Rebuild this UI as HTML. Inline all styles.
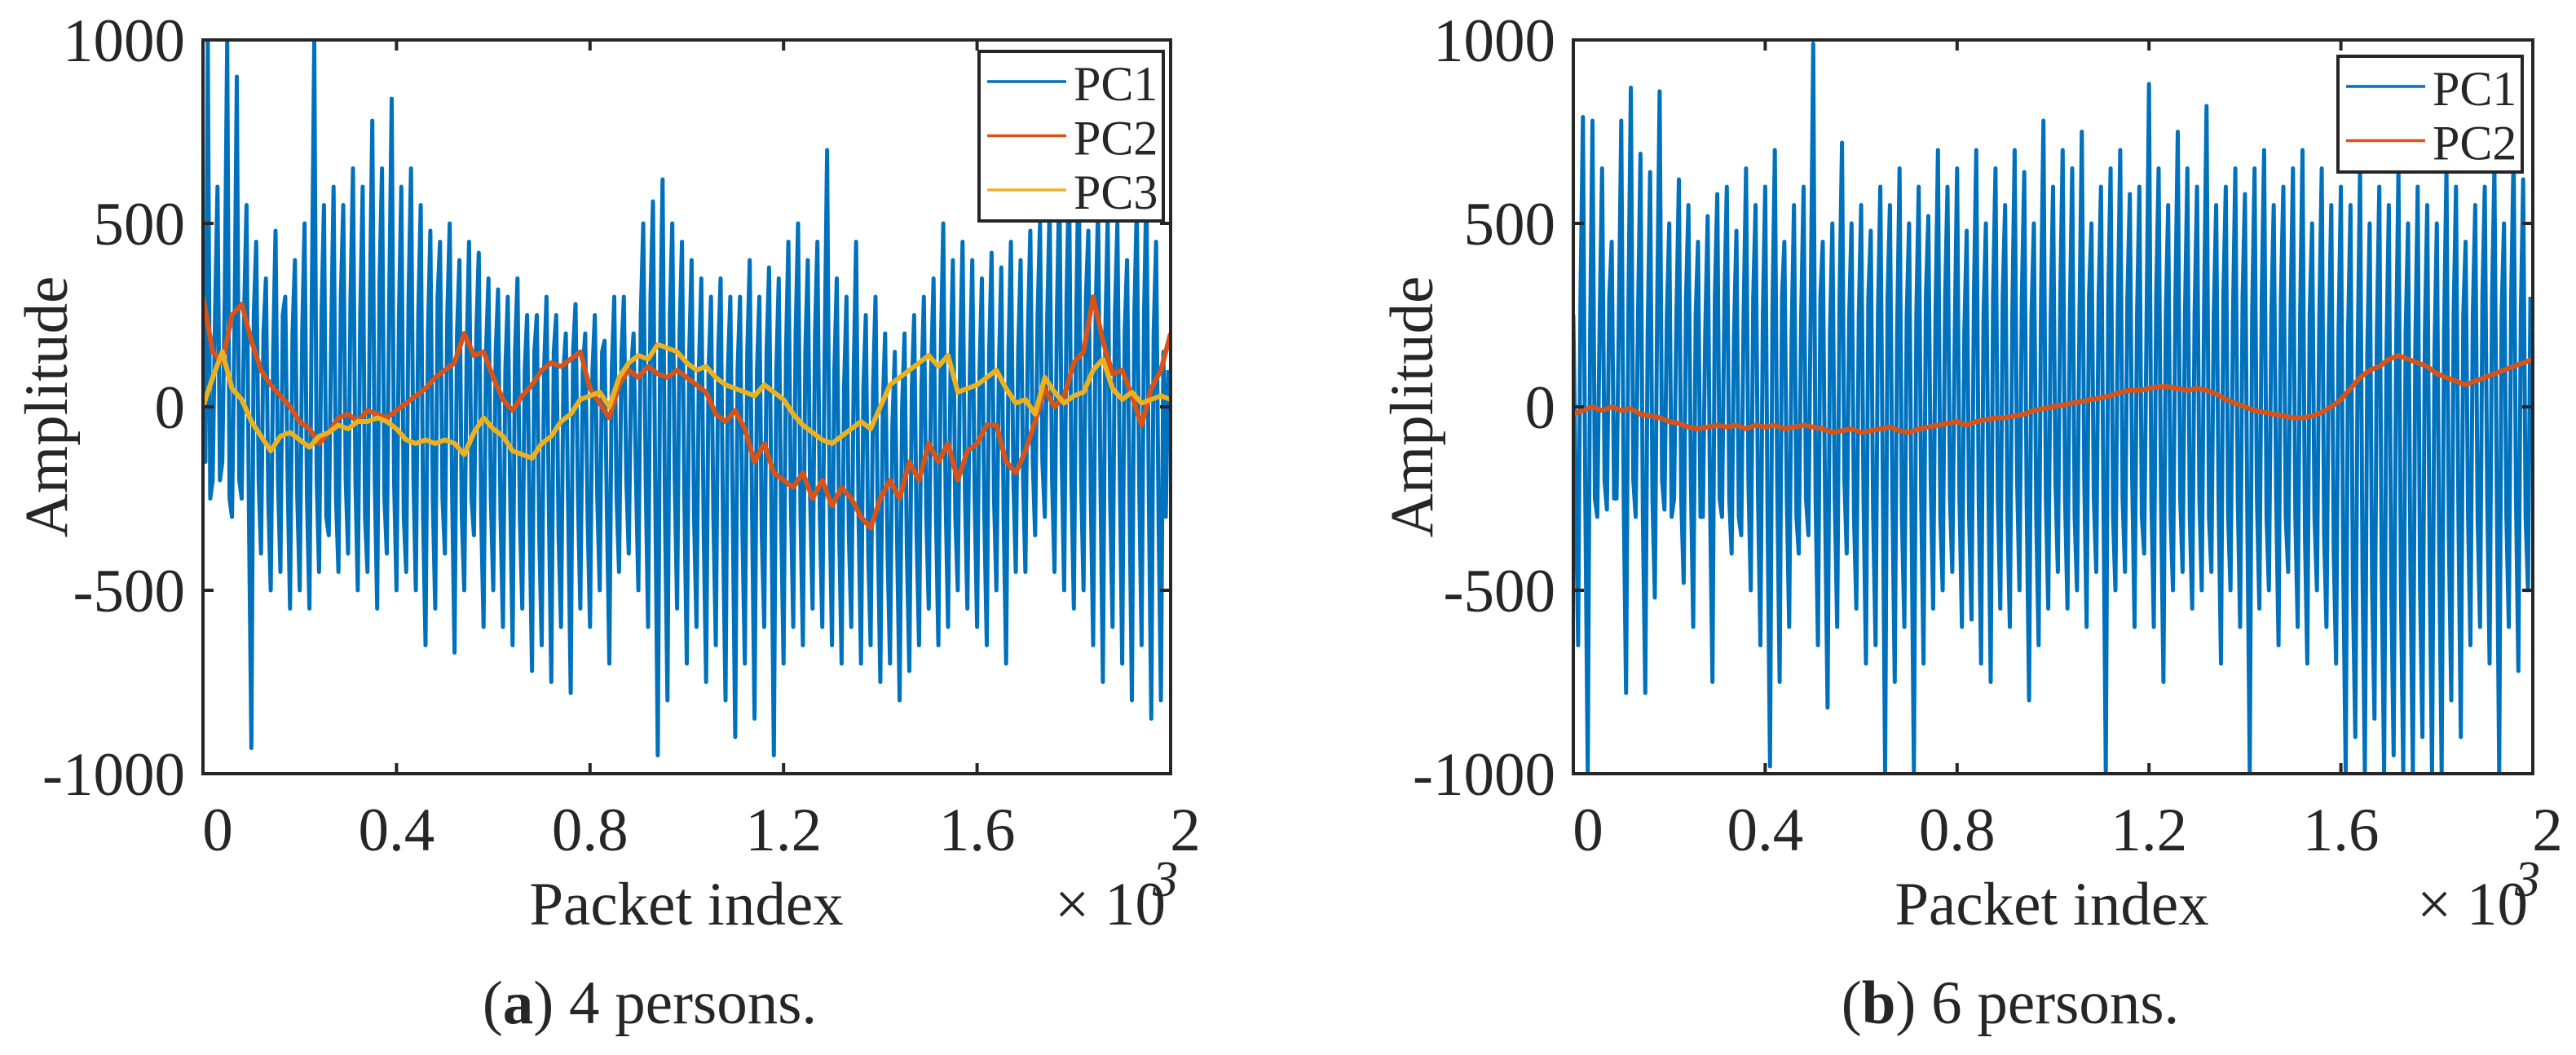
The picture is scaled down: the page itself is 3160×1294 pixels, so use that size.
<!DOCTYPE html>
<html><head><meta charset="utf-8">
<style>
html,body{margin:0;padding:0;background:#fff;}
svg{display:block;}
</style></head>
<body>
<svg id="fig" width="3160" height="1294" viewBox="0 0 3160 1294" xmlns="http://www.w3.org/2000/svg" font-family="'Liberation Serif', 'Times New Roman', serif">
<defs>
<clipPath id="clipA"><rect x="249" y="49" width="1187" height="900"/></clipPath>
<clipPath id="clipB"><rect x="1930" y="49" width="1177" height="900"/></clipPath>
</defs>
</svg>
<script>
const xTicks=[0,400,800,1200,1600,2000];
const xTickLabels=["0","0.4","0.8","1.2","1.6","2"];
const yTicks=[1000,500,0,-500,-1000];
const yTickLabels=["1000","500","0","-500","-1000"];
const pc1Step=5, pcSmoothStep=20;
const aPC1=[300,-150,1000,-250,-200,250,600,-200,-150,300,1000,-250,-300,200,900,-200,-250,250,550,-300,
-930,250,450,-200,-400,200,350,-250,-500,150,480,-200,-450,250,300,-200,-550,200,400,-250,
-500,200,500,-250,-550,300,1000,-200,-450,250,550,-300,-350,200,600,-250,-450,300,550,-200,
-400,300,650,-200,-500,250,600,-300,-450,300,780,-200,-550,350,650,-250,-400,300,840,-200,
-500,250,600,-300,-450,300,650,-200,-500,250,550,-300,-650,200,480,-250,-550,300,450,-250,
-400,250,500,-250,-670,200,400,-300,-500,150,450,-250,-350,200,420,-300,-600,150,350,-250,
-500,150,320,-300,-600,100,300,-250,-650,150,350,-300,-550,100,250,-300,-720,150,250,-350,
-650,100,300,-300,-750,150,250,-350,-600,100,200,-300,-780,150,280,-250,-550,100,200,-300,
-600,100,250,-250,-500,150,180,-300,-700,100,300,-250,-450,150,300,-200,-400,100,200,-200,
-500,250,500,-200,-600,300,560,-250,-950,200,620,-300,-800,250,500,-200,-550,200,450,-250,
-700,150,400,-300,-600,100,350,-350,-750,100,300,-300,-650,150,350,-350,-800,100,300,-300,
-900,100,300,-350,-700,150,400,-300,-850,100,300,-350,-600,150,380,-300,-950,100,350,-300,
-700,150,450,-250,-600,200,500,-300,-650,150,400,-250,-550,200,450,-300,-600,150,700,-250,
-650,100,350,-350,-700,50,300,-350,-600,100,450,-300,-700,50,250,-400,-650,50,300,-350,
-750,0,200,-400,-700,-50,150,-400,-800,0,200,-400,-720,50,250,-350,-650,50,300,-300,
-550,100,350,-300,-650,150,500,-250,-600,100,400,-300,-500,150,450,-250,-550,100,400,-250,
-600,100,350,-300,-650,150,420,-250,-500,100,380,-300,-700,150,450,-200,-450,150,400,-200,
-450,200,480,-150,-350,250,500,-150,-300,250,550,-200,-450,250,620,-150,-500,300,650,-200,
-550,250,700,-200,-500,300,480,-250,-650,250,550,-200,-750,200,520,-250,-600,250,500,-200,
-700,200,400,-250,-800,250,550,-200,-650,250,600,-250,-850,200,450,-300,-800,150,-300,100];
const aPC2=[300,150,120,250,280,180,100,60,30,0,
-40,-60,-100,-70,-30,-20,-40,-10,-20,-30,
-10,10,30,50,80,100,120,200,140,150,
80,20,-10,30,60,100,120,110,130,150,
50,10,-30,60,100,80,110,90,80,100,
80,60,40,-20,-40,-10,-60,-150,-100,-180,
-200,-220,-180,-250,-200,-270,-220,-250,-300,-330,
-250,-200,-250,-150,-200,-100,-150,-100,-200,-120,
-100,-50,-50,-150,-180,-120,-40,50,0,30,
120,150,300,180,90,100,30,-50,50,100,200];
const aPC3=[0,80,150,50,20,-40,-80,-120,-80,-70,
-90,-110,-80,-70,-50,-60,-40,-40,-30,-40,
-60,-90,-100,-90,-100,-90,-100,-130,-70,-30,
-60,-80,-120,-130,-140,-100,-80,-40,-20,20,
30,40,0,80,120,140,130,170,160,150,
120,100,110,80,60,50,40,30,60,40,
20,-20,-50,-70,-90,-100,-80,-60,-40,-60,
0,60,80,100,120,140,110,140,40,50,
60,80,100,50,10,20,-20,80,40,10,
30,40,100,130,50,20,40,10,20,30,20];
const bPC1=[250,-200,-650,300,790,-250,-1000,200,780,-250,-300,250,650,-200,-280,300,450,-250,-250,250,
780,-250,-780,300,870,-200,-300,250,690,-300,-780,200,640,-250,-520,300,860,-200,-280,250,
500,-300,-250,250,620,-250,-480,300,550,-200,-600,250,450,-300,-300,200,520,-250,-750,300,
580,-250,-300,300,600,-250,-400,200,480,-300,-350,250,650,-200,-500,300,550,-250,-650,250,
600,-300,-980,250,700,-200,-750,300,450,-250,-600,200,550,-300,-400,250,600,-250,-350,300,
990,-250,-650,300,450,-300,-820,200,500,-250,-600,300,720,-200,-400,250,500,-300,-550,250,
550,-250,-700,300,480,-300,-650,250,600,-200,-1000,300,550,-250,-750,200,650,-300,-600,250,
500,-300,-1000,250,600,-250,-700,300,520,-200,-550,250,700,-300,-500,300,600,-250,-450,200,
650,-250,-600,200,480,-300,-580,300,700,-250,-700,250,500,-200,-750,300,650,-250,-550,300,
550,-300,-600,250,700,-200,-500,300,640,-250,-800,250,500,-300,-650,300,780,-250,-550,250,
600,-200,-450,300,700,-250,-550,250,650,-300,-500,250,750,-200,-600,300,500,-250,-450,300,
600,-250,-1000,300,650,-300,-500,250,700,-250,-450,300,580,-200,-600,250,600,-300,-400,250,
880,-250,-600,300,650,-250,-750,250,550,-300,-500,300,750,-250,-450,250,650,-300,-550,250,
600,-250,-500,300,820,-300,-450,250,550,-250,-700,300,600,-300,-500,250,650,-250,-600,300,
580,-300,-1000,250,650,-250,-550,300,700,-300,-500,250,550,-250,-650,300,600,-300,-450,250,
650,-300,-600,250,700,-350,-700,250,500,-300,-500,250,650,-350,-600,200,550,-400,-700,200,
600,-450,-1000,200,550,-500,-900,150,650,-450,-1000,150,500,-500,-850,200,600,-450,-1000,150,
550,-500,-950,150,650,-500,-1000,200,500,-450,-1000,150,600,-500,-900,200,550,-450,-1000,150,
500,-400,-1000,200,650,-350,-800,250,600,-300,-900,250,450,-300,-650,250,550,-300,-600,300,
600,-250,-700,300,650,-250,-1000,250,500,-300,-600,300,700,-250,-720,250,620,-300,-500,300];
const bPC2=[-20,-10,0,-10,0,-10,-5,-20,-25,-30,
-40,-45,-55,-60,-55,-50,-55,-50,-60,-50,
-55,-50,-60,-55,-50,-55,-60,-70,-65,-60,
-70,-65,-60,-55,-65,-70,-60,-55,-50,-45,
-40,-50,-40,-35,-30,-30,-25,-20,-10,-5,
0,5,10,15,20,25,30,40,45,45,
50,55,55,50,45,50,45,35,20,10,
0,-10,-15,-20,-25,-30,-30,-25,-15,0,
20,50,80,100,110,130,140,130,120,110,
90,80,70,60,70,80,90,100,110,120,130];
const legendA=["PC1","PC2","PC3"];
const legendB=["PC1","PC2"];
const COLORS={PC1:"#0072BD",PC2:"#D95319",PC3:"#EDB120"};

const NS="http://www.w3.org/2000/svg";
const svg=document.getElementById('fig');
const FONT="'Liberation Serif', 'Times New Roman', serif";
function mk(tag,attrs,parent){const e=document.createElementNS(NS,tag);for(const k in attrs)e.setAttribute(k,attrs[k]);if(tag==='text'){e.setAttribute('font-family',FONT);e.setAttribute('fill','#262626');}(parent||svg).appendChild(e);return e;}

function panel(cfg){
  const L=cfg.left,R=cfg.right,T=49,B=949;
  const xs=v=>L+(v-0)/2000*(R-L);
  const ys=v=>T+(1000-v)/2000*(B-T);
  const g=mk('g',{});
  
  
  const pg=mk('g',{'clip-path':'url(#'+cfg.clip+')'},g);
  
  
  cfg.series.forEach(s=>{
    const pts=s.data.map((v,i)=>xs(i*s.step).toFixed(1)+','+ys(v).toFixed(1)).join(' ');
    const pl=mk('polyline',{points:pts,fill:'none',stroke:COLORS[s.key],'stroke-width':s.w,'stroke-linejoin':'round'},pg);
    
    
  });
  const fr=mk('rect',{x:L,y:T,width:R-L,height:B-T,fill:'none',stroke:'#262626','stroke-width':4},g);
  
  
  xTicks.forEach((t,i)=>{
    const x=xs(t);
    mk('line',{x1:x,y1:B,x2:x,y2:B-13,stroke:'#262626','stroke-width':4},g);
    mk('line',{x1:x,y1:T,x2:x,y2:T+13,stroke:'#262626','stroke-width':4},g);
    let off=(i===0||i===xTicks.length-1)?18:0;
    const tx=mk('text',{x:x+off,y:1043,'font-size':75,'text-anchor':'middle'},g);
    tx.textContent=xTickLabels[i];
    
    
  });
  yTicks.forEach((t,i)=>{
    const y=ys(t);
    mk('line',{x1:L,y1:y,x2:L+13,y2:y,stroke:'#262626','stroke-width':4},g);
    mk('line',{x1:R,y1:y,x2:R-13,y2:y,stroke:'#262626','stroke-width':4},g);
    const tx=mk('text',{x:L-22,y:y+26,'font-size':75,'text-anchor':'end'},g);
    tx.textContent=yTickLabels[i];
    
    
  });
  const yl=mk('text',{x:0,y:0,'font-size':75,'text-anchor':'middle',transform:'translate('+(cfg.ylabX)+',499) rotate(-90)'},g);
  yl.textContent='Amplitude';
  
  
  const xl=mk('text',{x:cfg.xlabX,y:1134,'font-size':75,'text-anchor':'middle'},g);
  xl.textContent='Packet index';
  
  
  const ex=mk('text',{x:R-142,y:1134,'font-size':75},g);
  ex.textContent='× 10';
  
  
  const e3=mk('text',{x:R-22,y:1099,'font-size':62,'font-style':'italic'},g);
  e3.textContent='3';
  
  
  const lg=mk('g',{},g);
  
  
  const lb=cfg.legendBox;
  mk('rect',{x:lb[0],y:lb[1],width:lb[2],height:lb[3],fill:'#fff',stroke:'#262626','stroke-width':4},lg);
  cfg.legend.forEach((k,i)=>{
    const y=lb[1]+37+i*66.5;
    const ln=mk('line',{x1:lb[0]+10,y1:y,x2:lb[0]+107,y2:y,stroke:COLORS[k],'stroke-width':3.5},lg);
    
    
    const t=mk('text',{x:lb[0]+116,y:y+23,'font-size':60},lg);
    t.textContent=k;
    
    
  });
  const cap=mk('text',{x:cfg.capX,y:1255,'font-size':75,'text-anchor':'middle'},g);
  cap.innerHTML='(<tspan font-weight="bold">'+cfg.capLetter+'</tspan>) '+cfg.capText;
  
  
}
panel({name:'panel-a',left:249,right:1436,clip:'clipA',ylabX:82,xlabX:842,capX:797,capLetter:'a',capText:'4 persons.',
  legend:legendA,legendBox:[1201,63,226,208],
  series:[{key:'PC1',data:aPC1,step:pc1Step,w:5},{key:'PC2',data:aPC2,step:pcSmoothStep,w:6},{key:'PC3',data:aPC3,step:pcSmoothStep,w:6}]});
panel({name:'panel-b',left:1930,right:3107,clip:'clipB',ylabX:1757,xlabX:2517,capX:2466,capLetter:'b',capText:'6 persons.',
  legend:legendB,legendBox:[2868,69,226,142],
  series:[{key:'PC1',data:bPC1,step:pc1Step,w:5},{key:'PC2',data:bPC2,step:pcSmoothStep,w:6}]});
</script>
</body></html>
